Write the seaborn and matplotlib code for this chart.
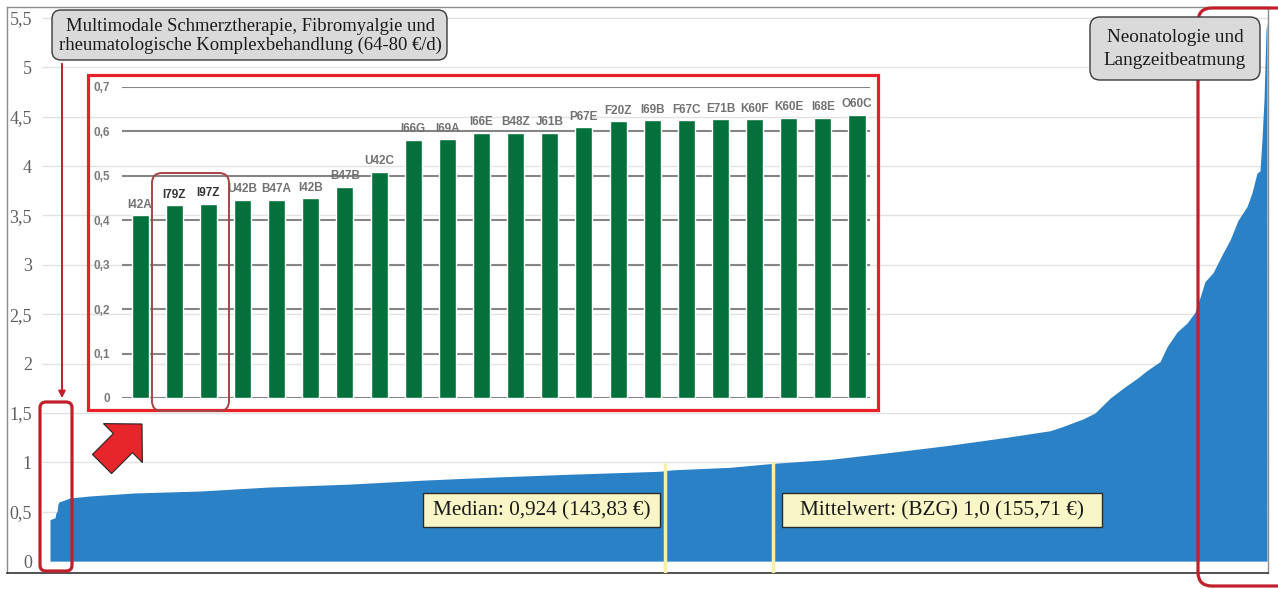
import numpy as np
import matplotlib
matplotlib.use("Agg")
import matplotlib.pyplot as plt
from matplotlib.patches import FancyBboxPatch, Rectangle, FancyArrow
import seaborn as sns

# sorted relative weights per day (rank of DRG -> value)
drg_rank = [0, 5, 6, 7, 8, 9, 12, 20, 40, 84, 150, 218, 300, 373, 441, 520, 610, 623,
            680, 723, 780, 840, 897, 954, 1000, 1012, 1033, 1045, 1060, 1073, 1087, 1097,
            1110, 1117, 1127, 1137, 1145, 1150, 1155, 1163, 1173, 1180, 1188, 1197, 1202,
            1207, 1210, 1212, 1214, 1216, 1217]
rel_weight = [0.42, 0.44, 0.49, 0.50, 0.58, 0.60, 0.61, 0.64, 0.66, 0.69, 0.71, 0.75, 0.78,
              0.82, 0.85, 0.88, 0.91, 0.925, 0.95, 0.99, 1.03, 1.10, 1.17, 1.25, 1.32, 1.36,
              1.44, 1.50, 1.65, 1.75, 1.85, 1.93, 2.02, 2.17, 2.32, 2.41, 2.52, 2.67, 2.83,
              2.92, 3.12, 3.25, 3.45, 3.59, 3.73, 3.93, 3.95, 4.27, 4.67, 5.38, 5.45]
median_rank = 615
median_top = 0.99
mean_rank = 723
mean_top = 1.0
main_ticks = [0, 0.5, 1, 1.5, 2, 2.5, 3, 3.5, 4, 4.5, 5, 5.5]

# inset: lowest DRGs
inset_codes = ["I42A", "I79Z", "I97Z", "U42B", "B47A", "I42B", "B47B", "U42C", "I66G", "I69A",
               "I66E", "B48Z", "J61B", "P67E", "F20Z", "I69B", "F67C", "E71B", "K60F", "K60E",
               "I68E", "O60C"]
inset_values = [0.411, 0.434, 0.437, 0.446, 0.446, 0.450, 0.476, 0.509, 0.581, 0.583, 0.597,
                0.597, 0.597, 0.610, 0.623, 0.625, 0.625, 0.627, 0.627, 0.631, 0.631, 0.638]
inset_highlight = ["I79Z", "I97Z"]
inset_ticks = [0, 0.1, 0.2, 0.3, 0.4, 0.5, 0.6, 0.7]

sns.set_theme(style="white")
plt.rcParams["font.family"] = ["Liberation Serif", "DejaVu Serif"]

W, H = 1278, 589
fig = plt.figure(figsize=(W / 100, H / 100), dpi=100)


def fx(px):
    return px / W


def fy(py):
    return 1 - py / H


def comma(v):
    s = f"{v:g}"
    return s.replace(".", ",")


# main chart
ax = fig.add_axes([fx(7), fy(573), fx(1268) - fx(7), fy(7) - fy(573)])
ax.set_xlim(-43, 1218)
ax.set_ylim(-0.12, 5.61)
ax.hlines(main_ticks[1:], -8, 1218, color="#e2e2e2", lw=1, zorder=0)
ax.fill_between(drg_rank, 0, rel_weight, color="#2b81c6", lw=0, zorder=2)
ax.vlines([median_rank, mean_rank], -0.12, [median_top, mean_top], color="#f6f1a6", lw=2.5, zorder=3)
ax.set_xticks([])
ax.set_yticks(main_ticks)
ax.set_yticklabels([comma(t) for t in main_ticks], color="#5f5f5f", fontsize=13)
ax.tick_params(axis="y", length=0, pad=-18)
for side in ["left", "top", "right"]:
    ax.spines[side].set_color("#8c8c8c")
    ax.spines[side].set_linewidth(1)
ax.spines["bottom"].set_color("#333333")
ax.spines["bottom"].set_linewidth(1.2)

# inset chart
ix = fig.add_axes([fx(122), fy(398), fx(870) - fx(122), fy(87) - fy(398)])
ix.set_facecolor("none")
sns.barplot(x=inset_codes, y=inset_values, color="#04703b", saturation=1, width=0.5, ax=ix, zorder=3)
ix.set_xlim(-0.53, 21.38)
ix.set_ylim(0, 0.7)
ix.set_yticks(inset_ticks)
ix.set_yticklabels([comma(t) for t in inset_ticks], fontsize=8.5, fontweight="bold",
                   color="#7a7a7a", family=["Liberation Sans", "DejaVu Sans"])
ix.tick_params(axis="y", length=0, pad=8.5)
ix.set_xticks([])
ix.set_xlabel("")
ix.set_ylabel("")
ix.grid(axis="y", color="#858585", lw=1.5, zorder=0)
ix.set_axisbelow(True)
sns.despine(ax=ix, left=True, bottom=True)
for i, (code, v) in enumerate(zip(inset_codes, inset_values)):
    hl = code in inset_highlight
    ix.text(i, v + 0.01, code, ha="center", va="bottom", fontsize=8.5, fontweight="bold",
            color="#333333" if hl else "#727272", family=["Liberation Sans", "DejaVu Sans"])

# overlay in pixel coordinates for annotations
ov = fig.add_axes([0, 0, 1, 1], zorder=10)
ov.set_xlim(0, W)
ov.set_ylim(H, 0)
ov.axis("off")

ov.add_patch(Rectangle((88, 75), 790, 335, fill=False, ec="#e8202a", lw=2.3))
ov.add_patch(FancyBboxPatch((152, 173), 77, 238, boxstyle="round,pad=0,rounding_size=10",
                            fill=False, ec="#a84444", lw=1.4))
ov.add_patch(FancyBboxPatch((40, 402), 32, 169, boxstyle="round,pad=0,rounding_size=6",
                            fill=False, ec="#c0202a", lw=2.3))
ov.add_patch(FancyBboxPatch((1198, 8), 110, 578, boxstyle="round,pad=0,rounding_size=14",
                            fill=False, ec="#c0202a", lw=2.3, clip_on=False))
ov.add_patch(FancyArrow(102, 464, 40, -40, width=27, head_width=55, head_length=27,
                        length_includes_head=True, fc="#e8252a", ec="#222222", lw=0.8))
ov.annotate("", xy=(62, 401), xytext=(62, 61),
            arrowprops=dict(arrowstyle="-|>", color="#c0202a", lw=1.4, mutation_scale=10))

# grey callouts
ov.add_patch(FancyBboxPatch((52, 10), 395, 50, boxstyle="round,pad=0,rounding_size=9",
                            fc="#dadada", ec="#3a3a3a", lw=1, zorder=4))
ov.text(250, 36, "Multimodale Schmerztherapie, Fibromyalgie und\nrheumatologische Komplexbehandlung (64-80 €/d)",
        ha="center", va="center", fontsize=13.4, color="#1a1a1a", linespacing=1.15, zorder=5)
ov.add_patch(FancyBboxPatch((1090, 17), 170, 63, boxstyle="round,pad=0,rounding_size=10",
                            fc="#dadada", ec="#3a3a3a", lw=1, zorder=4))
ov.text(1175, 49, "Neonatologie und\nLangzeitbeatmung", ha="center", va="center", fontsize=13.8,
        color="#1a1a1a", linespacing=1.45, zorder=5)

# yellow labels
ov.add_patch(Rectangle((423, 493), 237, 34, fc="#f8f6c6", ec="#2b2b2b", lw=1, zorder=4))
ov.text(541.5, 511, "Median: 0,924 (143,83 €)", ha="center", va="center", fontsize=15.3,
        color="#1a1a1a", zorder=5)
ov.add_patch(Rectangle((782, 493), 320, 34, fc="#f8f6c6", ec="#2b2b2b", lw=1, zorder=4))
ov.text(942, 511, "Mittelwert: (BZG) 1,0 (155,71 €)", ha="center", va="center", fontsize=15.3,
        color="#1a1a1a", zorder=5)

fig.savefig("out.png", dpi=100)
